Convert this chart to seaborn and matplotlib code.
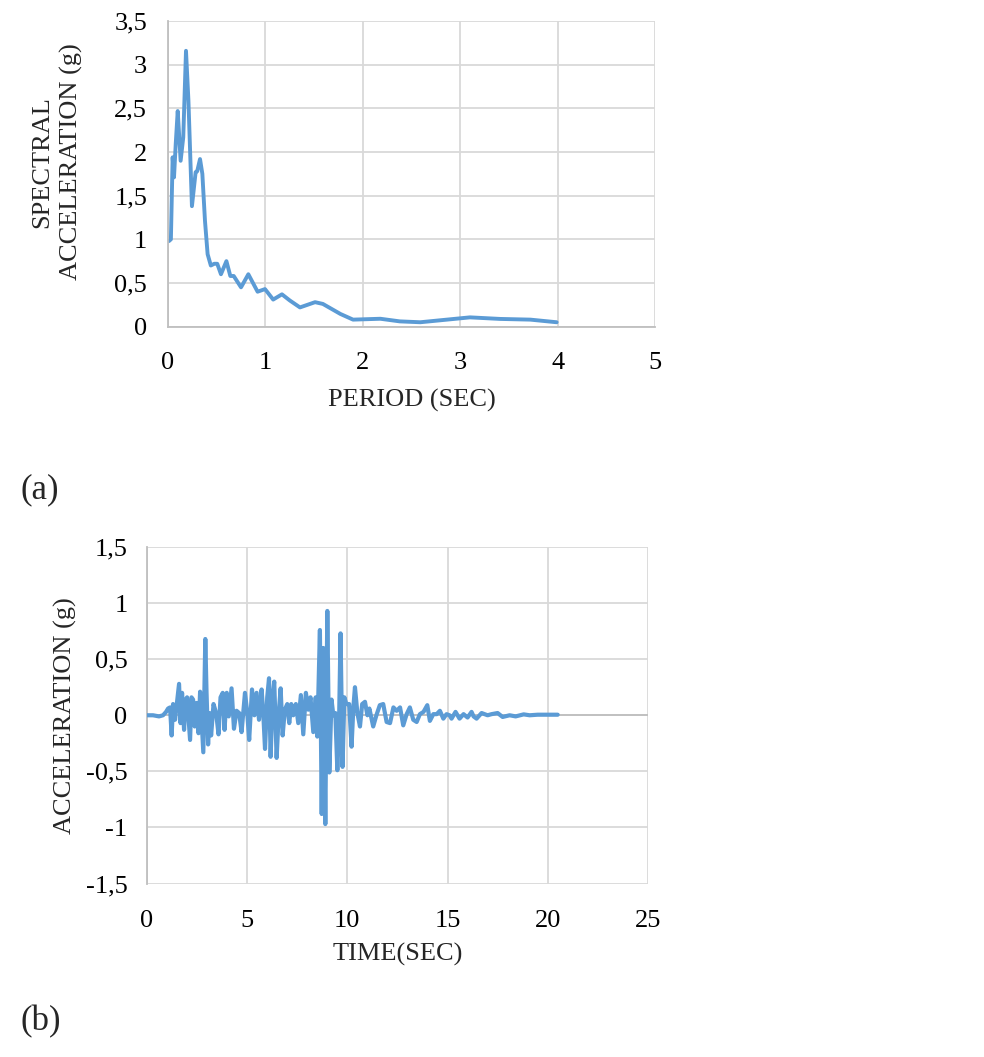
import matplotlib
matplotlib.use("Agg")
import matplotlib.pyplot as plt
import seaborn as sns
import numpy as np
import pandas as pd

# ---------------- data ----------------
period = [0.01, 0.03, 0.048, 0.062, 0.08, 0.10, 0.13, 0.157, 0.185, 0.21, 0.246,
          0.284, 0.30, 0.329, 0.353, 0.38, 0.407, 0.44, 0.475, 0.506, 0.544, 0.60,
          0.64, 0.675, 0.75, 0.825, 0.92, 0.996, 1.08, 1.17, 1.25, 1.355, 1.51,
          1.59, 1.77, 1.90, 2.18, 2.38, 2.59, 3.10, 3.41, 3.72, 3.99]
spectral_acc = [0.98, 1.00, 1.94, 1.71, 2.10, 2.47, 1.90, 2.17, 3.16, 2.59, 1.38,
                1.77, 1.78, 1.92, 1.75, 1.21, 0.83, 0.70, 0.72, 0.72, 0.60, 0.75,
                0.58, 0.58, 0.45, 0.60, 0.40, 0.43, 0.31, 0.37, 0.30, 0.22, 0.28,
                0.26, 0.145, 0.08, 0.09, 0.06, 0.05, 0.106, 0.088, 0.08, 0.05]

time_s = [0, 0.3, 0.6, 0.8, 0.95, 1.05, 1.15, 1.23, 1.3, 1.4, 1.6, 1.67, 1.75, 1.85,
          1.93, 2.0, 2.15, 2.22, 2.3, 2.38, 2.48, 2.57, 2.65, 2.81, 2.91, 2.97, 3.05,
          3.12, 3.2, 3.32, 3.45, 3.57, 3.67, 3.78, 3.87, 3.98, 4.08, 4.22, 4.34, 4.47,
          4.6, 4.72, 4.89, 5.0, 5.1, 5.24, 5.36, 5.47, 5.59, 5.72, 5.8, 5.89, 6.0,
          6.09, 6.17, 6.27, 6.35, 6.47, 6.58, 6.67, 6.77, 6.88, 7.0, 7.1, 7.2, 7.3,
          7.43, 7.55, 7.68, 7.8, 7.93, 8.05, 8.16, 8.3, 8.42, 8.5, 8.63, 8.72, 8.8,
          8.9, 9.0, 9.1, 9.21, 9.3, 9.4, 9.5, 9.58, 9.66, 9.76, 9.85, 9.95, 10.09,
          10.21, 10.3, 10.38, 10.5, 10.63, 10.74, 10.88, 11.0, 11.1, 11.29, 11.45,
          11.62, 11.79, 11.96, 12.13, 12.3, 12.46, 12.63, 12.79, 12.96, 13.12, 13.29,
          13.46, 13.62, 13.8, 13.99, 14.12, 14.29, 14.46, 14.62, 14.79, 14.95, 15.1,
          15.2, 15.4, 15.6, 15.8, 16.0, 16.2, 16.3, 16.45, 16.7, 17.0, 17.2, 17.5,
          17.75, 18.1, 18.4, 18.8, 19.1, 19.5, 20.0, 20.5]
acceleration = [0, 0, -0.01, 0.0, 0.03, 0.06, 0.07, -0.18, 0.10, -0.04, 0.28, -0.07,
                0.20, -0.13, 0.14, 0.16, -0.22, 0.16, 0.14, -0.10, 0.11, -0.16, 0.21,
                -0.33, 0.68, 0.21, -0.26, 0.02, -0.18, 0.10, 0.02, -0.17, 0.16, 0.20,
                -0.13, 0.20, -0.01, 0.24, -0.12, 0.04, 0.02, -0.15, 0.20, 0.03, -0.22,
                0.23, 0.0, 0.20, -0.04, 0.23, 0.03, -0.30, 0.16, 0.33, -0.37, 0.16,
                0.30, -0.38, 0.03, 0.24, -0.18, 0.05, 0.10, -0.07, 0.10, 0.0, 0.10,
                -0.07, 0.18, -0.17, 0.20, 0.05, 0.16, -0.15, 0.16, -0.19, 0.76, -0.88,
                0.60, -0.97, 0.93, -0.51, 0.14, 0.0, 0.02, -0.49, -0.13, 0.73, -0.46,
                0.16, 0.10, 0.10, -0.28, 0.07, 0.25, 0.02, -0.10, 0.10, 0.12, 0.0,
                0.06, -0.10, 0.0, 0.09, 0.10, -0.06, -0.07, 0.07, 0.04, 0.07, -0.09,
                0.01, 0.07, -0.04, -0.06, 0.01, 0.03, 0.09, -0.05, 0.01, 0.01, 0.04,
                -0.03, 0.01, 0.0, -0.03, 0.03, -0.03, 0.01, -0.02, 0.03, -0.01, -0.03,
                0.02, 0.0, 0.01, 0.02, -0.015, 0.0, -0.01, 0.008, 0.0, 0.005, 0.005,
                0.005]

top_xticks = [0, 1, 2, 3, 4, 5]
top_yticks = [0, 0.5, 1, 1.5, 2, 2.5, 3, 3.5]
top_ylabels = ["0", "0,5", "1", "1,5", "2", "2,5", "3", "3,5"]
bot_xticks = [0, 5, 10, 15, 20, 25]
bot_yticks = [-1.5, -1, -0.5, 0, 0.5, 1, 1.5]
bot_ylabels = ["-1,5", "-1", "-0,5", "0", "0,5", "1", "1,5"]

# ---------------- style ----------------
sns.set_theme(style="white")
plt.rcParams["font.family"] = ["Liberation Serif", "DejaVu Serif"]
FS = 19
LINE = "#5B9BD5"
GRID = "#D9D9D9"
AXIS = "#BFBFBF"

fig = plt.figure(figsize=(9.84, 10.57), dpi=100)
fig.patch.set_facecolor("white")

# ---------------- (a) spectrum ----------------
ax1 = fig.add_axes([0.1707, 0.691, 0.495, 0.289])
df1 = pd.DataFrame({"T": period, "Sa": spectral_acc})
sns.lineplot(data=df1, x="T", y="Sa", ax=ax1, color=LINE, linewidth=2.8)
ax1.set_xlim(0, 5)
ax1.set_ylim(0, 3.5)
ax1.set_xticks(top_xticks)
ax1.set_xticklabels([str(v) for v in top_xticks])
ax1.set_yticks(top_yticks)
ax1.set_yticklabels(top_ylabels)
ax1.grid(True, color=GRID, linewidth=1.3)
ax1.set_axisbelow(True)
for s in ["top", "right"]:
    ax1.spines[s].set_visible(False)
for s in ["left", "bottom"]:
    ax1.spines[s].set_color(AXIS)
    ax1.spines[s].set_linewidth(1.3)
ax1.tick_params(axis="both", length=0, labelsize=FS, colors="black")
ax1.tick_params(axis="y", pad=15)
ax1.tick_params(axis="x", pad=18)
ax1.set_xlabel("PERIOD (SEC)", fontsize=FS)
ax1.set_ylabel("SPECTRAL\nACCELERATION (g)", fontsize=FS, linespacing=1.35)
ax1.xaxis.set_label_coords(0.5, -0.205)
ax1.yaxis.set_label_coords(-0.175, 0.54)

# ---------------- (b) time history ----------------
ax2 = fig.add_axes([0.1494, 0.1641, 0.509, 0.3184])
df2 = pd.DataFrame({"t": time_s, "a": acceleration})
ax2.axhline(0, color=AXIS, linewidth=1.3, zorder=1)
sns.lineplot(data=df2, x="t", y="a", ax=ax2, color=LINE, linewidth=3.0, zorder=3)
ax2.set_xlim(0, 25)
ax2.set_ylim(-1.5, 1.5)
ax2.set_xticks(bot_xticks)
ax2.set_xticklabels([str(v) for v in bot_xticks])
ax2.set_yticks(bot_yticks)
ax2.set_yticklabels(bot_ylabels)
ax2.grid(True, color=GRID, linewidth=1.3)
ax2.set_axisbelow(True)
for s in ["top", "right", "bottom"]:
    ax2.spines[s].set_visible(False)
ax2.spines["left"].set_color(AXIS)
ax2.spines["left"].set_linewidth(1.3)
ax2.tick_params(axis="both", length=0, labelsize=FS, colors="black")
ax2.tick_params(axis="y", pad=14)
ax2.tick_params(axis="x", pad=19)
ax2.set_xlabel("TIME(SEC)", fontsize=FS)
ax2.set_ylabel("ACCELERATION (g)", fontsize=FS)
ax2.xaxis.set_label_coords(0.5, -0.175)
ax2.yaxis.set_label_coords(-0.14, 0.5)

fig.text(20 / 984, 1 - 490 / 1057, "(a)", fontsize=25, va="center", ha="left")
fig.text(20 / 984, 1 - 1022 / 1057, "(b)", fontsize=25, va="center", ha="left")

fig.savefig("out.png", dpi=100, facecolor="white")
